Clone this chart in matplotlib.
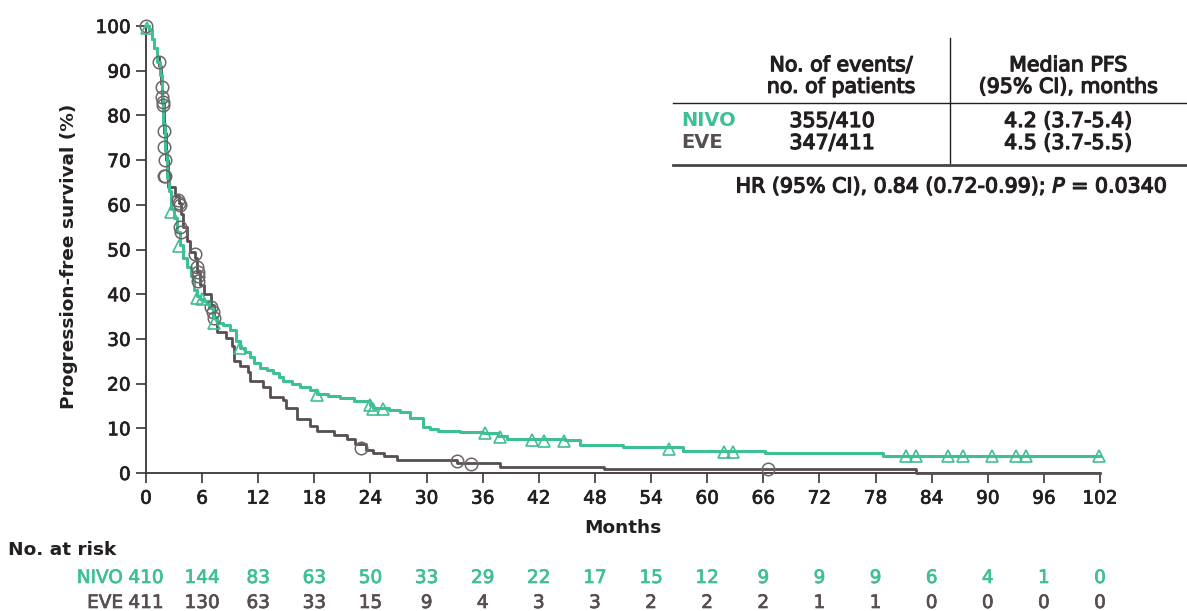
import matplotlib
matplotlib.use("Agg")
import matplotlib.pyplot as plt
import matplotlib.patheffects as pe
from matplotlib.lines import Line2D

plt.rcParams['font.family'] = ['DejaVu Sans']

GREEN = '#3fbf94'
GRAY = '#564e4f'
TEXT = '#231f20'

# ---------------- data ----------------
months_ticks = list(range(0, 103, 6))
y_ticks = list(range(0, 101, 10))

nivo_t = [0, 0.3, 0.6, 0.9, 1.2, 1.5, 1.7, 1.85, 2.0, 2.2, 2.5, 2.7, 3.0, 3.3, 3.6,
          4.0, 4.4, 4.8, 5.1, 5.4, 5.8, 6.2, 6.7, 7.2, 7.6, 8.2, 9.0, 9.6, 10.1,
          10.6, 11.1, 11.6, 12.2, 12.9, 13.6, 14.2, 14.7, 15.6, 16.5, 17.5, 18.3,
          19.5, 20.7, 22.2, 23.9, 24.3, 26.0, 27.2, 28.2, 29.6, 30.4, 31.2, 33.6,
          36.0, 37.6, 38.6, 44.8, 46.4, 51.0, 57.4, 66.2, 78.8, 102]
nivo_s = [100, 99, 97, 95, 92, 89, 84, 78, 72, 66, 63, 59, 57, 54, 51,
          48, 46, 44, 41, 39.5, 39, 38.5, 37, 35, 33.5, 33, 32, 29.5, 28,
          27, 26, 24.5, 23.5, 23, 22.3, 21.5, 20.5, 20, 19.3, 18.5, 17.7,
          17.3, 16.7, 16, 15.3, 14.5, 14, 13.7, 12.2, 10.4, 9.8, 9.5, 9.2,
          9.0, 8.3, 7.6, 7.3, 6.2, 5.8, 4.9, 4.4, 3.8, 3.8]

eve_t = [0, 0.3, 0.6, 0.9, 1.2, 1.4, 1.6, 1.75, 1.9, 2.1, 2.4, 3.1, 3.5, 3.7, 4.0,
         4.4, 4.7, 5.2, 5.5, 5.8, 6.2, 6.9, 7.3, 7.6, 8.6, 9.2, 9.4, 10.0, 10.9,
         11.1, 12.5, 13.3, 14.7, 15.0, 16.1, 17.5, 18.3, 20.1, 21.5, 22.3, 23.5,
         24.3, 25.4, 26.8, 33.2, 37.8, 49.0, 82.3, 102]
eve_s = [100, 99, 97, 95, 93, 91, 87, 83, 76, 70, 64, 62, 60.5, 58, 55,
         52, 49.5, 48, 45, 42, 40, 37.5, 35, 31.5, 30.1, 28.3, 25, 24, 22.7,
         20.5, 19.3, 17.1, 16.3, 14.5, 12, 10.5, 9.3, 8.5, 7.5, 6.5, 5.2,
         4.4, 3.7, 3.0, 2.2, 1.3, 0.8, 0.0, 0.0]

nivo_cens_t = [0.1, 2.7, 3.5, 5.4, 6.0, 7.3, 10.1, 18.3, 23.9, 24.3, 25.3, 36.2,
               37.8, 41.3, 42.5, 44.7, 55.9, 61.8, 62.8, 81.3, 82.3, 85.7, 87.4,
               90.5, 93.0, 94.1, 101.9]
nivo_cens_s = [99.5, 58.5, 50.8, 39.2, 39.0, 33.5, 27.9, 17.5, 15.2, 14.3, 14.3, 8.9,
               8.1, 7.4, 7.2, 7.2, 5.4, 4.8, 4.8, 3.8, 3.8, 3.8, 3.8,
               3.8, 3.8, 3.8, 3.8]

eve_cens_t = [0.0, 1.4, 1.7, 1.75, 1.8, 1.8, 1.9, 1.95, 2.0, 2.0, 1.9, 3.4, 3.5, 3.6,
              3.6, 3.7, 5.2, 5.5, 5.6, 5.6, 5.6, 6.9, 7.2, 7.3, 23.0, 33.2, 34.8, 66.5]
eve_cens_s = [100, 92, 86.4, 84.2, 83, 82.3, 76.4, 73, 70, 66.4, 66.4, 61, 60.5, 60,
              55, 54, 49, 46, 45, 44, 43, 37.2, 36, 34.6, 5.5, 2.6, 2.1, 0.8]

nivo_risk = [410, 144, 83, 63, 50, 33, 29, 22, 17, 15, 12, 9, 9, 9, 6, 4, 1, 0]
eve_risk = [411, 130, 63, 33, 15, 9, 4, 3, 3, 2, 2, 2, 1, 1, 0, 0, 0, 0]

table_header = ["No. of events/\nno. of patients", "Median PFS\n(95% CI), months"]
table_arms = ["NIVO", "EVE"]
table_events = ["355/410", "347/411"]
table_median = ["4.2 (3.7-5.4)", "4.5 (3.7-5.5)"]

# ---------------- figure ----------------
W, H = 1187, 611
fig = plt.figure(figsize=(W / 100, H / 100), dpi=100)

def fx(px):
    return px / W

def fy(py):
    return 1 - py / H

def weight(color, lw):
    return [pe.withStroke(linewidth=lw, foreground=color)]

FS = 13.3
FT = 14.8

ax = fig.add_axes([fx(146), fy(473), fx(1100) - fx(146), fy(26) - fy(473)])
ax.set_xlim(0, 102)
ax.set_ylim(0, 100)

ax.step(eve_t, eve_s, where='post', color=GRAY, lw=2.0, clip_on=False, zorder=3)
ax.step(nivo_t, nivo_s, where='post', color=GREEN, lw=2.2, clip_on=False, zorder=4)
ax.plot(eve_cens_t, eve_cens_s, ls='none', marker='o', ms=9, mfc='none',
        mec='#6d6667', mew=1.1, clip_on=False, zorder=5)
ax.plot(nivo_cens_t, nivo_cens_s, ls='none', marker='^', ms=8, mfc='none',
        mec=GREEN, mew=1.2, clip_on=False, zorder=6)

for s in ['top', 'right']:
    ax.spines[s].set_visible(False)
for s in ['left', 'bottom']:
    ax.spines[s].set_color('#3a3536')
    ax.spines[s].set_linewidth(1.3)

ax.set_xticks(months_ticks)
ax.set_yticks(y_ticks)
ax.tick_params(axis='both', direction='out', length=7, width=1.2, color='#3a3536',
               labelsize=FS, labelcolor=TEXT)
ax.tick_params(axis='x', pad=5)
ax.tick_params(axis='y', pad=4)
for lab in ax.get_xticklabels() + ax.get_yticklabels():
    lab.set_path_effects(weight(TEXT, 0.5))

ax.set_ylabel("Progression-free survival (%)", fontsize=13.3, fontweight='bold',
              color=TEXT)
ax.yaxis.set_label_coords(-0.071, 0.485)
ax.set_xlabel("Months", fontsize=13.3, fontweight='bold', color=TEXT, labelpad=8)

# ---------------- risk table ----------------
fig.text(fx(8), fy(550), "No. at risk", fontsize=13.3, fontweight='bold',
         color=TEXT, va='center', ha='left')
for i, m in enumerate(months_ticks):
    xpix = 146 + m * (1100 - 146) / 102
    fig.text(fx(xpix), fy(578), str(nivo_risk[i]), fontsize=FS, color=GREEN,
             ha='center', va='center', path_effects=weight(GREEN, 0.5))
    fig.text(fx(xpix), fy(603), str(eve_risk[i]), fontsize=FS, color=GRAY,
             ha='center', va='center', path_effects=weight(GRAY, 0.5))
fig.text(fx(123), fy(578), "NIVO", fontsize=FS, color=GREEN, ha='right',
         va='center', path_effects=weight(GREEN, 0.5))
fig.text(fx(123), fy(603), "EVE", fontsize=FS, color=GRAY, ha='right',
         va='center', path_effects=weight(GRAY, 0.5))

# ---------------- summary table ----------------
fig.add_artist(Line2D([fx(950), fx(950)], [fy(38), fy(163)], color=TEXT, lw=1.0))
fig.add_artist(Line2D([fx(673), fx(1187)], [fy(103), fy(103)], color=TEXT, lw=1.0))
fig.add_artist(Line2D([fx(673), fx(1187)], [fy(165), fy(165)], color='#4a4445', lw=2.0))

tw = weight(TEXT, 0.9)
fig.text(fx(841), fy(76), table_header[0], fontsize=FT, color=TEXT, ha='center',
         va='center', linespacing=1.1, path_effects=tw)
fig.text(fx(1068), fy(76), table_header[1], fontsize=FT, color=TEXT, ha='center',
         va='center', linespacing=1.1, path_effects=tw)
row_y = [121, 143]
arm_colors = [GREEN, GRAY]
for i in range(2):
    fig.text(fx(681), fy(row_y[i]), table_arms[i], fontsize=FT - 0.8, fontweight='bold',
             color=arm_colors[i], ha='left', va='center')
    fig.text(fx(832), fy(row_y[i]), table_events[i], fontsize=FT, color=TEXT,
             ha='center', va='center', path_effects=tw)
    fig.text(fx(1068), fy(row_y[i]), table_median[i], fontsize=FT, color=TEXT,
             ha='center', va='center', path_effects=tw)

fig.text(fx(951), fy(186),
         r"HR (95% CI), 0.84 (0.72-0.99); $\mathit{P}$ = 0.0340",
         fontsize=FT, color=TEXT, ha='center', va='center', path_effects=tw)

fig.savefig("out.png", dpi=100)
